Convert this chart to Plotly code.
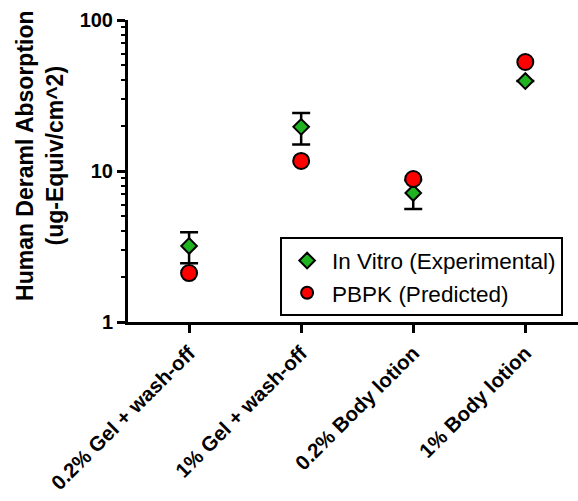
import plotly.graph_objects as go

categories = ["0.2% Gel + wash-off", "1% Gel + wash-off", "0.2% Body lotion", "1% Body lotion"]
in_vitro = [3.19, 19.6, 7.15, 39.4]
in_vitro_err = [0.74, 4.6, 1.55, 0]
pbpk = [2.11, 11.65, 8.85, 52.7]
ytick_vals = [1, 10, 100]
ytick_text = ["1", "10", "100"]
minor_vals = [2, 3, 4, 5, 6, 7, 8, 9, 20, 30, 40, 50, 60, 70, 80, 90]

xpos = list(range(len(categories)))
FONT = "Arial, Liberation Sans, sans-serif"

fig = go.Figure()
fig.add_trace(go.Scatter(
    x=xpos, y=in_vitro, mode="markers", name="In Vitro (Experimental)",
    marker=dict(symbol="diamond", size=12, color="#1fb41f", line=dict(color="black", width=2)),
    error_y=dict(type="data", array=in_vitro_err, color="black", thickness=2.5, width=9),
))
fig.add_trace(go.Scatter(
    x=xpos, y=pbpk, mode="markers", name="PBPK (Predicted)",
    marker=dict(symbol="circle", size=16, color="#ff0000", line=dict(color="black", width=2)),
))

fig.update_layout(
    width=578, height=501, autosize=False,
    margin=dict(l=128, r=0, t=20, b=179),
    paper_bgcolor="white", plot_bgcolor="white",
    font=dict(family=FONT, color="black"),
    showlegend=True,
    legend=dict(
        x=0.338, y=0.28, xanchor="left", yanchor="top",
        bgcolor="white", bordercolor="black", borderwidth=2,
        font=dict(size=22.5, color="black", family=FONT), itemwidth=40,
        itemsizing="constant", tracegroupgap=0,
    ),
    xaxis=dict(
        range=[-0.545, 3.47], tickvals=xpos, ticktext=categories,
        tickangle=-45, showline=True, linecolor="black", linewidth=3,
        ticks="outside", ticklen=8, tickwidth=2.5, tickcolor="black",
        showgrid=False, zeroline=False, automargin=False,
        tickfont=dict(size=20.5, family=FONT, color="black", weight="bold"),
    ),
    yaxis=dict(
        type="log", range=[0, 2], tickvals=ytick_vals, ticktext=ytick_text,
        showline=True, linecolor="black", linewidth=3,
        ticks="outside", ticklen=8, tickwidth=2.5, tickcolor="black",
        showgrid=False, zeroline=False, automargin=False,
        tickfont=dict(size=20, color="black", family=FONT, weight="bold"),
        minor=dict(tickvals=minor_vals, ticks="outside", ticklen=4, tickwidth=1.5,
                   tickcolor="black", showgrid=False),
    ),
    annotations=[dict(
        text="<b>Human Deraml Absorption<br>(ug-Equiv/cm^2)</b>",
        xref="paper", yref="paper", x=-0.1956, y=0.553,
        xanchor="center", yanchor="middle", textangle=-90, showarrow=False,
        font=dict(size=23, color="black", family=FONT),
    )],
)
fig.write_html("out.html")
